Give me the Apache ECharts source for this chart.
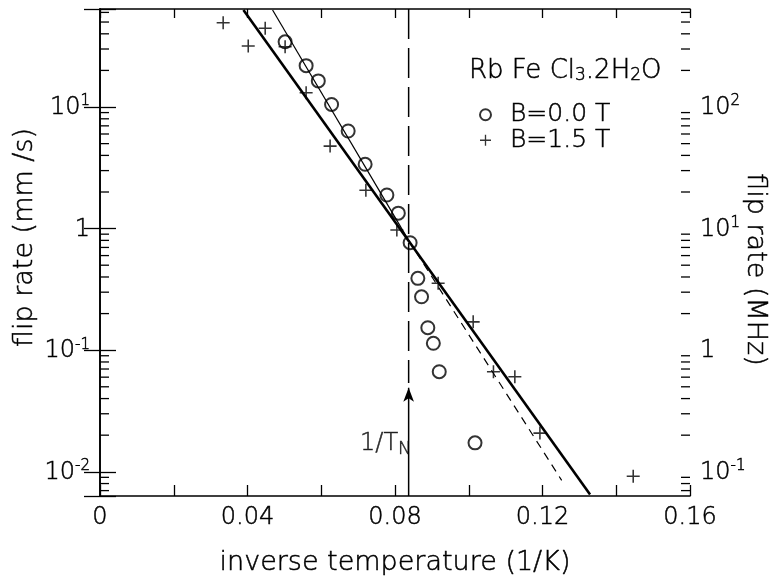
<!DOCTYPE html>
<html>
<head>
<meta charset="utf-8">
<script src="https://cdn.jsdelivr.net/npm/echarts@6/dist/echarts.min.js"></script>
<style>
  html, body { margin: 0; padding: 0; background: #fff; }
  #chart { width: 773px; height: 577px; }
</style>
</head>
<body>
<div id="chart"></div>
<script>
// B = 0.0 T (open circles)
const circleX = [0.0502, 0.0559, 0.0592, 0.0628, 0.0673, 0.0719, 0.0778, 0.0809, 0.0841, 0.0862, 0.0872, 0.0889, 0.0904, 0.0920, 0.1017];
const circleY = [34.4, 21.9, 16.4, 10.5, 6.35, 3.38, 1.89, 1.34, 0.766, 0.390, 0.275, 0.153, 0.114, 0.0665, 0.0173];
// B = 1.5 T (crosses)
const plusX = [0.0334, 0.0402, 0.0448, 0.0502, 0.0559, 0.0624, 0.0721, 0.0805, 0.0917, 0.1012, 0.1067, 0.1125, 0.1193, 0.1446];
const plusY = [49.3, 31.8, 44.4, 31.3, 13.1, 4.77, 2.07, 0.974, 0.355, 0.171, 0.0665, 0.0605, 0.0208, 0.0092];
// fitted lines
const fitB0X = [0.0468, 0.0837];
const fitB0Y = [62.8, 0.80];
const fitB15X = [0.0389, 0.1329];
const fitB15Y = [62.8, 0.0065];
const dashX = [0.0837, 0.1252];
const dashY = [0.80, 0.0085];
// 1/T_N marker
const tnX = 0.0837;
const tnDashY = [64, 0.0537];
const tnArrowY = [0.00632, 0.049];
const tnLabel = [0.0775, 0.0169];
// axes
const xMin = 0, xMax = 0.16, xStep = 0.02;
const yLeftMin = 0.00632, yLeftMax = 64;
const yRightMin = 0.0632, yRightMax = 640;
const minorTicks = [0.007, 0.008, 0.009,
  0.02, 0.03, 0.04, 0.05, 0.06, 0.07, 0.08, 0.09,
  0.2, 0.3, 0.4, 0.5, 0.6, 0.7, 0.8, 0.9,
  2, 3, 4, 5, 6, 7, 8, 9,
  20, 30, 40, 50, 60];

const FONT = 'DejaVu Sans';
const INK = '#000';

// thin lettering, slightly thickened with a text outline
function txt(size, extra) {
    return Object.assign({
        fontFamily: FONT, fontSize: size, fontWeight: 200, color: INK,
        textBorderColor: INK, textBorderWidth: 0.5
    }, extra || {});
}

function zip(xs, ys) {
    return xs.map((x, i) => [x, ys[i]]);
}

function powLabel(v) {
    const e = Math.round(Math.log10(v));
    if (Math.abs(v - Math.pow(10, e)) / v > 1e-6) return '';
    if (e === 0) return '{b|1}';
    return '{b|10}{sup|' + e + '}';
}

const logLabel = txt(24, {
    formatter: powLabel,
    rich: {
        b: txt(24, { lineHeight: 26, verticalAlign: 'bottom' }),
        sup: txt(15, { verticalAlign: 'bottom', padding: [0, 0, 11, 0] })
    }
});

let myChart = echarts.init(document.getElementById('chart'));
myChart.setOption({
    animation: false,
    title: {
        text: 'Rb Fe Cl{sub|3}.2H{sub|2}O',
        left: 464,
        top: 53,
        textStyle: txt(26, {
            fontWeight: 200,
            rich: { sub: txt(17, { verticalAlign: 'bottom' }) }
        })
    },
    legend: {
        orient: 'vertical',
        left: 474,
        top: 97,
        itemGap: 0,
        itemWidth: 11,
        itemHeight: 11,
        data: ['B=0.0 T', 'B=1.5 T'],
        textStyle: txt(25, { padding: [0, 0, 0, 14] })
    },
    grid: { left: 100, right: 83, top: 9, bottom: 81, outerBoundsMode: 'none' },
    xAxis: [
        {
            type: 'value', min: xMin, max: xMax, interval: xStep,
            name: 'inverse temperature (1/K)',
            nameLocation: 'middle', nameGap: 53, nameMoveOverlap: false,
            nameTextStyle: txt(27),
            axisLine: { lineStyle: { color: INK, width: 1.6 } },
            axisTick: { inside: true, length: 11, lineStyle: { color: INK, width: 1.3 } },
            axisLabel: txt(24, {
                margin: 10,
                formatter: function (v) {
                    const k = Math.round(v * 100);
                    if (k % 4 !== 0) return '';
                    return k === 0 ? '0' : v.toFixed(2);
                }
            }),
            splitLine: { show: false }
        },
        {
            type: 'value', min: xMin, max: xMax, interval: xStep, position: 'top',
            axisLine: { lineStyle: { color: INK, width: 1.6 } },
            axisTick: { inside: true, length: 9, lineStyle: { color: INK, width: 1.3 } },
            axisLabel: { show: false },
            splitLine: { show: false }
        }
    ],
    yAxis: [
        {
            type: 'log', logBase: 10, min: yLeftMin, max: yLeftMax,
            name: 'flip rate (mm /s)',
            nameLocation: 'middle', nameGap: 62, nameMoveOverlap: false,
            nameTextStyle: txt(27, { padding: [0, 0, 0, 30] }),
            axisLine: { show: true, lineStyle: { color: INK, width: 1.6 } },
            axisTick: { inside: true, length: 16, lineStyle: { color: INK, width: 1.3 } },
            axisLabel: Object.assign({ margin: 10 }, logLabel),
            splitLine: { show: false }
        },
        {
            type: 'log', logBase: 10, min: yRightMin, max: yRightMax, position: 'right',
            name: 'flip rate (MHz)',
            nameLocation: 'middle', nameGap: 52, nameRotate: -90, nameMoveOverlap: false,
            nameTextStyle: txt(27, { padding: [0, 0, 0, 34] }),
            axisLine: { show: true, lineStyle: { color: INK, width: 1.6 } },
            axisTick: { inside: true, length: 16, lineStyle: { color: INK, width: 1.3 } },
            axisLabel: Object.assign({ margin: 10 }, logLabel),
            splitLine: { show: false }
        }
    ],
    series: [
        {
            // minor log ticks on both vertical axes
            type: 'custom',
            silent: true,
            clip: false,
            data: minorTicks.map(v => [0, v]),
            renderItem: function (params, api) {
                const v = api.value(1);
                const pl = api.coord([xMin, v]);
                const pr = api.coord([xMax, v]);
                const st = { stroke: INK, lineWidth: 1.3 };
                return {
                    type: 'group',
                    children: [
                        { type: 'line', shape: { x1: pl[0], y1: pl[1], x2: pl[0] + 9, y2: pl[1] }, style: st },
                        { type: 'line', shape: { x1: pr[0] - 9, y1: pr[1], x2: pr[0], y2: pr[1] }, style: st }
                    ]
                };
            }
        },
        {
            name: 'fit B0', type: 'line', showSymbol: false, silent: true,
            data: zip(fitB0X, fitB0Y),
            lineStyle: { color: INK, width: 1.2 }
        },
        {
            name: 'fit B15', type: 'line', showSymbol: false, silent: true,
            data: zip(fitB15X, fitB15Y),
            lineStyle: { color: INK, width: 2.6 }
        },
        {
            name: 'dash', type: 'line', showSymbol: false, silent: true,
            data: zip(dashX, dashY),
            lineStyle: { color: INK, width: 1.2, type: [8, 6] }
        },
        {
            name: 'TN', type: 'line', showSymbol: false, silent: true,
            data: tnDashY.map(y => [tnX, y]),
            lineStyle: { color: INK, width: 1.5, type: [30, 9] }
        },
        {
            name: 'TN arrow', type: 'line', silent: true,
            data: [
                { value: [tnX, tnArrowY[0]], symbol: 'none' },
                { value: [tnX, tnArrowY[1]], symbol: 'arrow', symbolSize: [8, 14] }
            ],
            itemStyle: { color: INK },
            lineStyle: { color: INK, width: 1.5 }
        },
        {
            name: 'TN label', type: 'scatter', silent: true, symbolSize: 0,
            data: [tnLabel],
            label: txt(24, {
                show: true, position: 'inside',
                formatter: '1/T{sub|N}',
                rich: { sub: txt(18, { verticalAlign: 'bottom', padding: [10, 0, 0, 0] }) }
            })
        },
        {
            name: 'B=0.0 T', type: 'scatter',
            data: zip(circleX, circleY),
            symbol: 'emptyCircle', symbolSize: 13,
            itemStyle: { color: INK, borderWidth: 1.5 }
        },
        {
            name: 'B=1.5 T', type: 'scatter',
            data: zip(plusX, plusY),
            symbol: 'path://M0,8.8 H20 V11.2 H0 Z M8.8,0 H11.2 V20 H8.8 Z', symbolSize: 13,
            itemStyle: { color: INK }
        }
    ]
});
</script>
</body>
</html>
